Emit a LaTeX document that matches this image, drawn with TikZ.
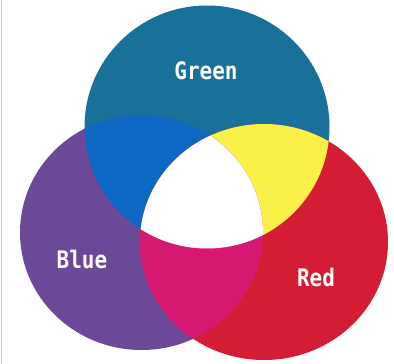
\documentclass[tikz,border=0pt]{standalone}
\usepackage{fontspec}
\newfontfamily\lblfont{DejaVu Sans Mono}
\definecolor{tealG}{RGB}{25,112,152}
\definecolor{purpleB}{RGB}{108,72,152}
\definecolor{redR}{RGB}{212,28,52}
\definecolor{cyanBG}{RGB}{12,104,195}
\definecolor{yellowGR}{RGB}{250,240,72}
\definecolor{magentaBR}{RGB}{214,24,112}
\definecolor{edgegray}{RGB}{200,200,205}
\tikzset{
  lbl/.style={text=white!95!pink, font=\lblfont\bfseries\fontsize{21}{21}\selectfont, inner sep=0pt, anchor=center},
}
\begin{document}
\begin{tikzpicture}[x=1pt,y=-1pt]
\useasboundingbox (0,0) rectangle (394,364);
\fill[white] (0,0) rectangle (394,364);
\draw[edgegray, line width=1pt] (1.5,0) -- (1.5,364);
\def\gpath{(207,127) ellipse [x radius=122.5, y radius=121.5]}
\def\bpath{(141.5,232.5) ellipse [x radius=121.5, y radius=117.5]}
\def\rpath{(264,242) ellipse [x radius=124, y radius=118]}
\fill[tealG] \gpath;
\fill[purpleB] \bpath;
\fill[redR] \rpath;
\begin{scope}
  \clip \gpath;
  \fill[cyanBG] \bpath;
  \fill[yellowGR] \rpath;
\end{scope}
\begin{scope}
  \clip \bpath;
  \fill[magentaBR] \rpath;
  \clip \rpath;
  \fill[white] \gpath;
\end{scope}
\node[lbl] (green) at (206,71) {\scalebox{1}[1.15]{Green}};
\node[lbl] (blue) at (82,259) {\scalebox{1}[1.15]{Blue}};
\node[lbl] (red) at (316,277) {\scalebox{1}[1.15]{Red}};
\end{tikzpicture}
\end{document}
